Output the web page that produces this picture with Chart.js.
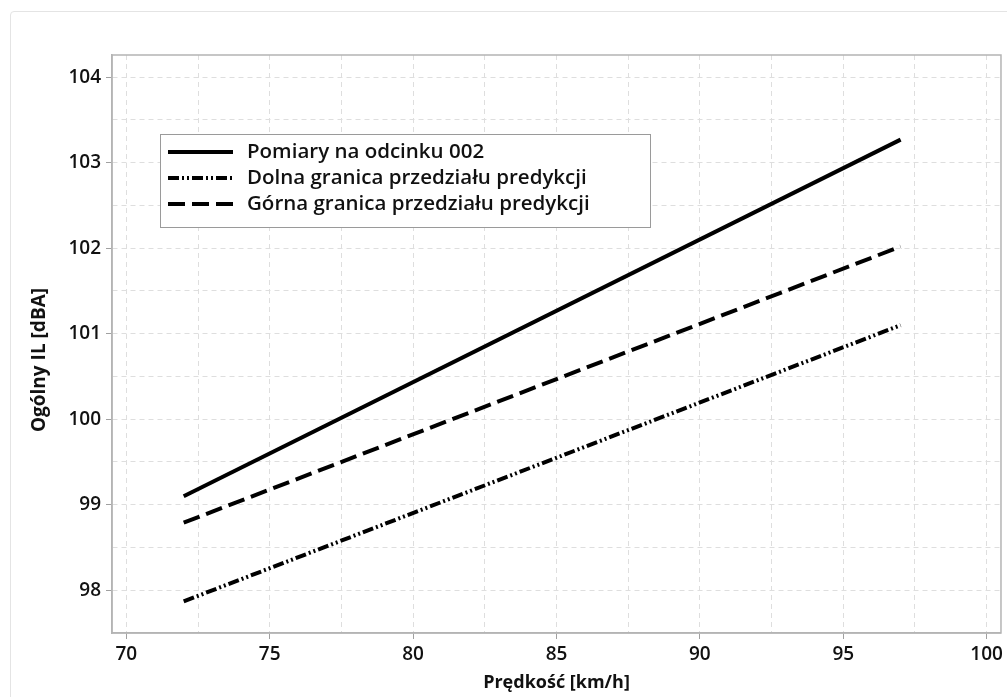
<!DOCTYPE html>
<html>
<head>
<meta charset="utf-8">
<script src="https://cdn.jsdelivr.net/npm/chart.js@4"></script>
<style>
  html, body { margin: 0; padding: 0; background: #fff; overflow: hidden; }
  #card { position: absolute; left: 10px; top: 11px; width: 1100px; height: 800px;
          border: 1px solid #e4e4e4; border-radius: 4px; }
  #wrap { position: absolute; left: 0; top: 0; width: 1007px; height: 697px; }
</style>
</head>
<body>
<div id="card"></div>
<div id="wrap"><canvas id="chart"></canvas></div>
<script>
// data
const speeds = [72, 97];
const measured = [99.1, 103.27];
const lowerBound = [97.87, 101.1];
const upperBound = [98.79, 102.02];

const seriesNames = [
  'Pomiary na odcinku 002',
  'Dolna granica przedziału predykcji',
  'Górna granica przedziału predykcji'
];

// grid / tick positions
const xTicks = [70, 72.5, 75, 77.5, 80, 82.5, 85, 87.5, 90, 92.5, 95, 97.5, 100];
const yTicks = [98, 98.5, 99, 99.5, 100, 100.5, 101, 101.5, 102, 102.5, 103, 103.5, 104];

const yTitle = 'Ogólny IL [dBA]';
const FONT = "'Open Sans', 'Noto Sans', sans-serif";
const toPoints = (ys) => speeds.map((x, i) => ({ x: x, y: ys[i] }));

// plot frame on all four sides
const frame = {
  id: 'frame',
  afterDatasetsDraw(chart) {
    const { ctx, chartArea: a } = chart;
    ctx.save();
    ctx.strokeStyle = '#b4b4b4';
    ctx.lineWidth = 1.5;
    ctx.strokeRect(a.left, a.top, a.right - a.left, a.bottom - a.top);
    ctx.restore();
  }
};

// y title sits a bit below the middle of the plot in the original
const sideTitle = {
  id: 'sideTitle',
  afterDraw(chart) {
    const { ctx, chartArea: a } = chart;
    ctx.save();
    ctx.translate(40, (a.top + a.bottom) / 2 + 16);
    ctx.rotate(-Math.PI / 2);
    ctx.font = 'bold 19px ' + FONT;
    ctx.fillStyle = '#111';
    ctx.textAlign = 'center';
    ctx.textBaseline = 'middle';
    ctx.fillText(yTitle, 0, 0);
    ctx.restore();
  }
};

// legend drawn inside the plot area
const innerLegend = {
  id: 'innerLegend',
  afterDraw(chart) {
    const { ctx, chartArea: a } = chart;
    const x0 = a.left + 48, y0 = a.top + 79;
    const w = 490, h = 93;
    ctx.save();
    ctx.fillStyle = '#fff';
    ctx.fillRect(x0, y0, w, h);
    ctx.strokeStyle = '#9a9a9a';
    ctx.lineWidth = 1;
    ctx.strokeRect(x0 + 0.5, y0 + 0.5, w, h);
    chart.data.datasets.forEach((ds, i) => {
      const cy = y0 + 18 + i * 26;
      ctx.beginPath();
      ctx.setLineDash(ds.borderDash || []);
      ctx.lineWidth = ds.borderWidth;
      ctx.strokeStyle = ds.borderColor;
      ctx.moveTo(x0 + 8, cy);
      ctx.lineTo(x0 + 73, cy);
      ctx.stroke();
      ctx.setLineDash([]);
      ctx.fillStyle = '#111';
      ctx.font = '600 20.5px ' + FONT;
      ctx.textBaseline = 'middle';
      ctx.fillText(ds.label, x0 + 87, cy);
    });
    ctx.restore();
  }
};

new Chart(document.getElementById('chart'), {
  type: 'line',
  data: {
    datasets: [
      { label: seriesNames[0], data: toPoints(measured), borderColor: '#000', borderWidth: 4, pointRadius: 0 },
      { label: seriesNames[1], data: toPoints(lowerBound), borderColor: '#000', borderWidth: 4, pointRadius: 0,
        borderDash: [11, 3, 2, 3, 2, 3] },
      { label: seriesNames[2], data: toPoints(upperBound), borderColor: '#000', borderWidth: 4, pointRadius: 0,
        borderDash: [17, 7] }
    ]
  },
  options: {
    responsive: true,
    maintainAspectRatio: false,
    animation: false,
    layout: { padding: { top: 55, right: 4, bottom: 0, left: 0 } },
    plugins: { legend: { display: false }, tooltip: { enabled: false } },
    scales: {
      x: {
        type: 'linear',
        min: 69.5,
        max: 100.5,
        afterBuildTicks: (s) => { s.ticks = xTicks.map(v => ({ value: v })); },
        afterFit: (s) => { s.height = 64; },
        ticks: {
          color: '#111',
          padding: 4,
          maxRotation: 0,
          autoSkip: false,
          font: { family: FONT, size: 19, weight: '600' },
          callback: (v) => (v % 5 === 0 ? v : '')
        },
        grid: {
          color: '#dedede',
          tickLength: 6,
          tickColor: (c) => (c.tick && c.tick.value % 5 === 0 ? '#a0a0a0' : 'transparent')
        },
        border: { color: '#b4b4b4', width: 1.5, dash: [5, 4] },
        title: {
          display: true,
          text: 'Prędkość [km/h]',
          color: '#111',
          font: { family: FONT, size: 18, weight: 'bold' },
          padding: { top: 0, bottom: 3 }
        }
      },
      y: {
        type: 'linear',
        min: 97.5,
        max: 104.26,
        afterBuildTicks: (s) => { s.ticks = yTicks.map(v => ({ value: v })); },
        afterFit: (s) => { s.width = 112; },
        ticks: {
          color: '#111',
          padding: 5,
          autoSkip: false,
          font: { family: FONT, size: 19, weight: '600' },
          callback: (v) => (Number.isInteger(v) ? v : '')
        },
        grid: {
          color: '#dedede',
          tickLength: 6,
          tickColor: (c) => (c.tick && Number.isInteger(c.tick.value) ? '#a0a0a0' : 'transparent')
        },
        border: { color: '#b4b4b4', width: 1.5, dash: [5, 4] }
      }
    }
  },
  plugins: [frame, sideTitle, innerLegend]
});
</script>
</body>
</html>
